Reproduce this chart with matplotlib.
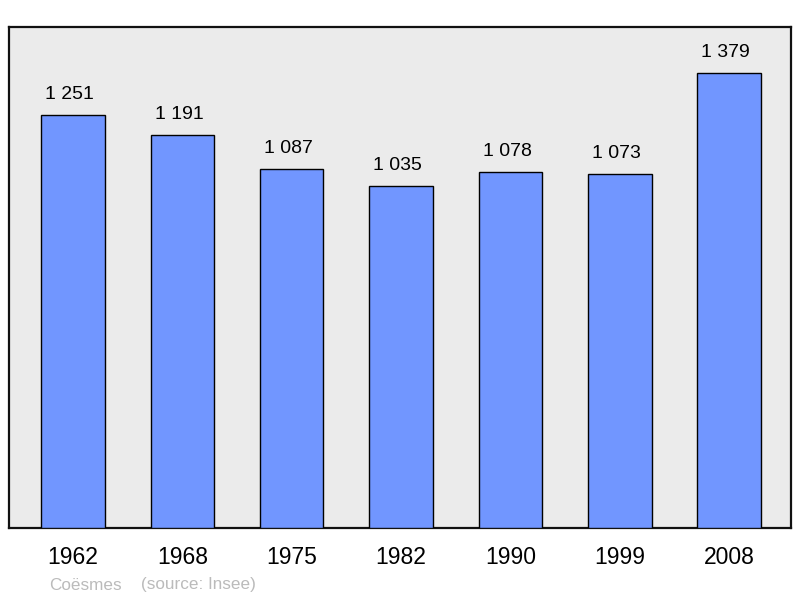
import matplotlib
matplotlib.use("Agg")
import matplotlib.pyplot as plt

years = ["1962", "1968", "1975", "1982", "1990", "1999", "2008"]
population = [1251, 1191, 1087, 1035, 1078, 1073, 1379]
value_labels = ["1 251", "1 191", "1 087", "1 035", "1 078", "1 073", "1 379"]
commune = "Coësmes"
source = "(source: Insee)"

plt.rcParams['font.family'] = ['Liberation Sans', 'DejaVu Sans']

fig = plt.figure(figsize=(8, 5.98), dpi=100)
ax = fig.add_axes([9/800, 1 - 528/598, 782/800, 501/598])
ax.set_facecolor('#EBEBEB')

x = list(range(len(years)))
ax.bar(x, population, width=0.58, color='#7196FF', edgecolor='black', linewidth=1.0, zorder=3)

for xi, v, lab in zip(x, population, value_labels):
    ax.annotate(lab, (xi, v), xytext=(-2.5, 8.5), textcoords='offset points',
                ha='center', va='bottom', fontsize=14, color='black')

ax.set_xlim(-0.585, 6.565)
ax.set_ylim(0, max(population) * 1.1)
ax.set_yticks([])
ax.set_xticks(x)
ax.set_xticklabels(years, fontsize=16.5)
ax.tick_params(axis='x', length=0, pad=13)
for s in ax.spines.values():
    s.set_linewidth(1.6)
    s.set_color('#111111')

fig.text(49/800, 1 - 585/598, commune, fontsize=12.3, color='#BBBBBB', va='center', ha='left')
fig.text(141/800, 1 - 585/598, source, fontsize=12.3, color='#BBBBBB', va='center', ha='left')

fig.savefig("out.png", dpi=100)
